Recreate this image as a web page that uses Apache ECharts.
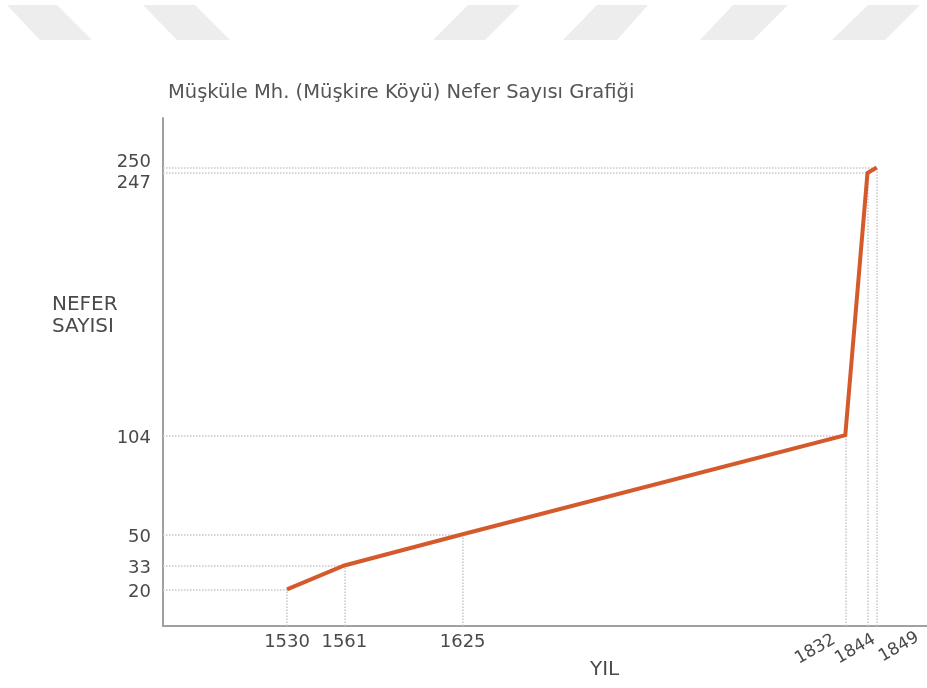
<!DOCTYPE html>
<html>
<head>
<meta charset="utf-8">
<script src="https://cdn.jsdelivr.net/npm/echarts@6/dist/echarts.min.js"></script>
<style>
html,body{margin:0;padding:0;background:#fff;}
#chart{width:927px;height:688px;}
</style>
</head>
<body>
<div id="chart"></div>
<script>
// Data
const years = [1530, 1561, 1625, 1832, 1844, 1849];
const nefer = [20, 33, 50, 104, 247, 250];
const xLabelsFlat = [1530, 1561, 1625];
const xLabelsRotated = [1832, 1844, 1849];
const yLabels = [20, 33, 50, 104, 247, 250];
const titleText = 'Müşküle Mh. (Müşkire Köyü) Nefer Sayısı Grafiği';
const yName = 'NEFER\nSAYISI';
const xName = 'YIL';

const X_MIN = 1462.9, X_MAX = 1876.2;
const Y_MIN = 0, Y_MAX = 277;
const FONT = '"DejaVu Sans", sans-serif';
const TXT = '#4a4a4a';
const DOT = '#c8c8c8';

// per-label placement of the rotated year labels (style only)
const rotatedLabelStyle = [
  {align: 'right', margin: 6, padding: [0, 13, 0, 0]},
  {align: 'center', margin: 16, padding: [0, 28, 0, 0]},
  {align: 'left', margin: 34, padding: [0, 0, 0, 4]}
];

const chart = echarts.init(document.getElementById('chart'), null, {renderer: 'canvas'});

const lineData = years.map((y, i) => [y, nefer[i]]);
const markData = [];
years.forEach((y, i) => {
  markData.push([{coord: [X_MIN, nefer[i]]}, {coord: [y, nefer[i]]}]);
  markData.push([{coord: [y, Y_MIN]}, {coord: [y, nefer[i]]}]);
});

// banner decoration polygons
const banner = [
  [[7,5],[57,5],[92,40],[40,40]],
  [[143,5],[195,5],[230,40],[177,40]],
  [[468,5],[520,5],[485,40],[433,40]],
  [[597,5],[648,5],[617,40],[563,40]],
  [[733,5],[788,5],[753,40],[700,40]],
  [[868,5],[920,5],[885,40],[832,40]]
].map(p => ({type: 'polygon', shape: {points: p}, style: {fill: '#ededed'}, silent: true}));

const plain = v => String(v);

const xAxisCommon = {
  type: 'value', min: X_MIN, max: X_MAX, gridIndex: 0, position: 'bottom',
  splitLine: {show: false}, axisTick: {show: false}
};

const xAxes = [
  Object.assign({}, xAxisCommon, {
    axisLine: {show: true, onZero: false, lineStyle: {color: '#a0a0a0', width: 2}},
    axisLabel: {customValues: xLabelsFlat, formatter: plain, hideOverlap: false, interval: 0,
                margin: 7, fontFamily: FONT, fontSize: 18, color: TXT}
  })
].concat(xLabelsRotated.map((v, i) => Object.assign({}, xAxisCommon, {
  axisLine: {show: false},
  axisLabel: {customValues: [v], formatter: plain, hideOverlap: false, interval: 0,
              rotate: 30, align: rotatedLabelStyle[i].align, verticalAlign: 'middle',
              margin: rotatedLabelStyle[i].margin, padding: rotatedLabelStyle[i].padding,
              fontFamily: FONT, fontSize: 17, color: TXT}
})));

const option = {
  backgroundColor: '#fff',
  animation: false,
  title: {
    text: titleText, left: 163, top: 78,
    textStyle: {fontFamily: FONT, fontSize: 19.5, fontWeight: 'normal', color: '#555'}
  },
  grid: {left: 163, right: 0, top: 118, bottom: 62, containLabel: false},
  xAxis: xAxes,
  yAxis: {
    type: 'value', min: Y_MIN, max: Y_MAX,
    splitLine: {show: false}, axisTick: {show: false},
    axisLine: {show: true, onZero: false, lineStyle: {color: '#a0a0a0', width: 2}},
    axisLabel: {
      customValues: yLabels, margin: 12, hideOverlap: false, interval: 0,
      fontFamily: FONT, fontSize: 18, color: TXT,
      formatter: function (v) {
        if (v === 250) return '{up|' + v + '}';
        if (v === 247) return '{down|' + v + '}';
        return '{n|' + v + '}';
      },
      rich: {
        up: {fontFamily: FONT, fontSize: 18, color: TXT, padding: [0, 0, 10, 0]},
        down: {fontFamily: FONT, fontSize: 18, color: TXT, padding: [20, 0, 0, 0]},
        n: {fontFamily: FONT, fontSize: 18, color: TXT, padding: [6, 0, 0, 0]}
      }
    }
  },
  graphic: banner.concat([
    {type: 'text', left: 52, top: 294, silent: true,
     style: {text: yName, fontFamily: FONT, fontSize: 20, lineHeight: 22, fill: TXT}},
    {type: 'text', left: 590, top: 660, silent: true,
     style: {text: xName, fontFamily: FONT, fontSize: 20, fill: TXT}}
  ]),
  series: [{
    type: 'line',
    xAxisIndex: 0,
    data: lineData,
    showSymbol: false,
    symbol: 'none',
    lineStyle: {color: '#d45a2c', width: 4, join: 'miter'},
    z: 5,
    markLine: {
      silent: true,
      symbol: ['none', 'none'],
      label: {show: false},
      lineStyle: {type: 'dotted', color: DOT, width: 1.5},
      z: 1,
      data: markData
    }
  }]
};
chart.setOption(option);
</script>
</body>
</html>
